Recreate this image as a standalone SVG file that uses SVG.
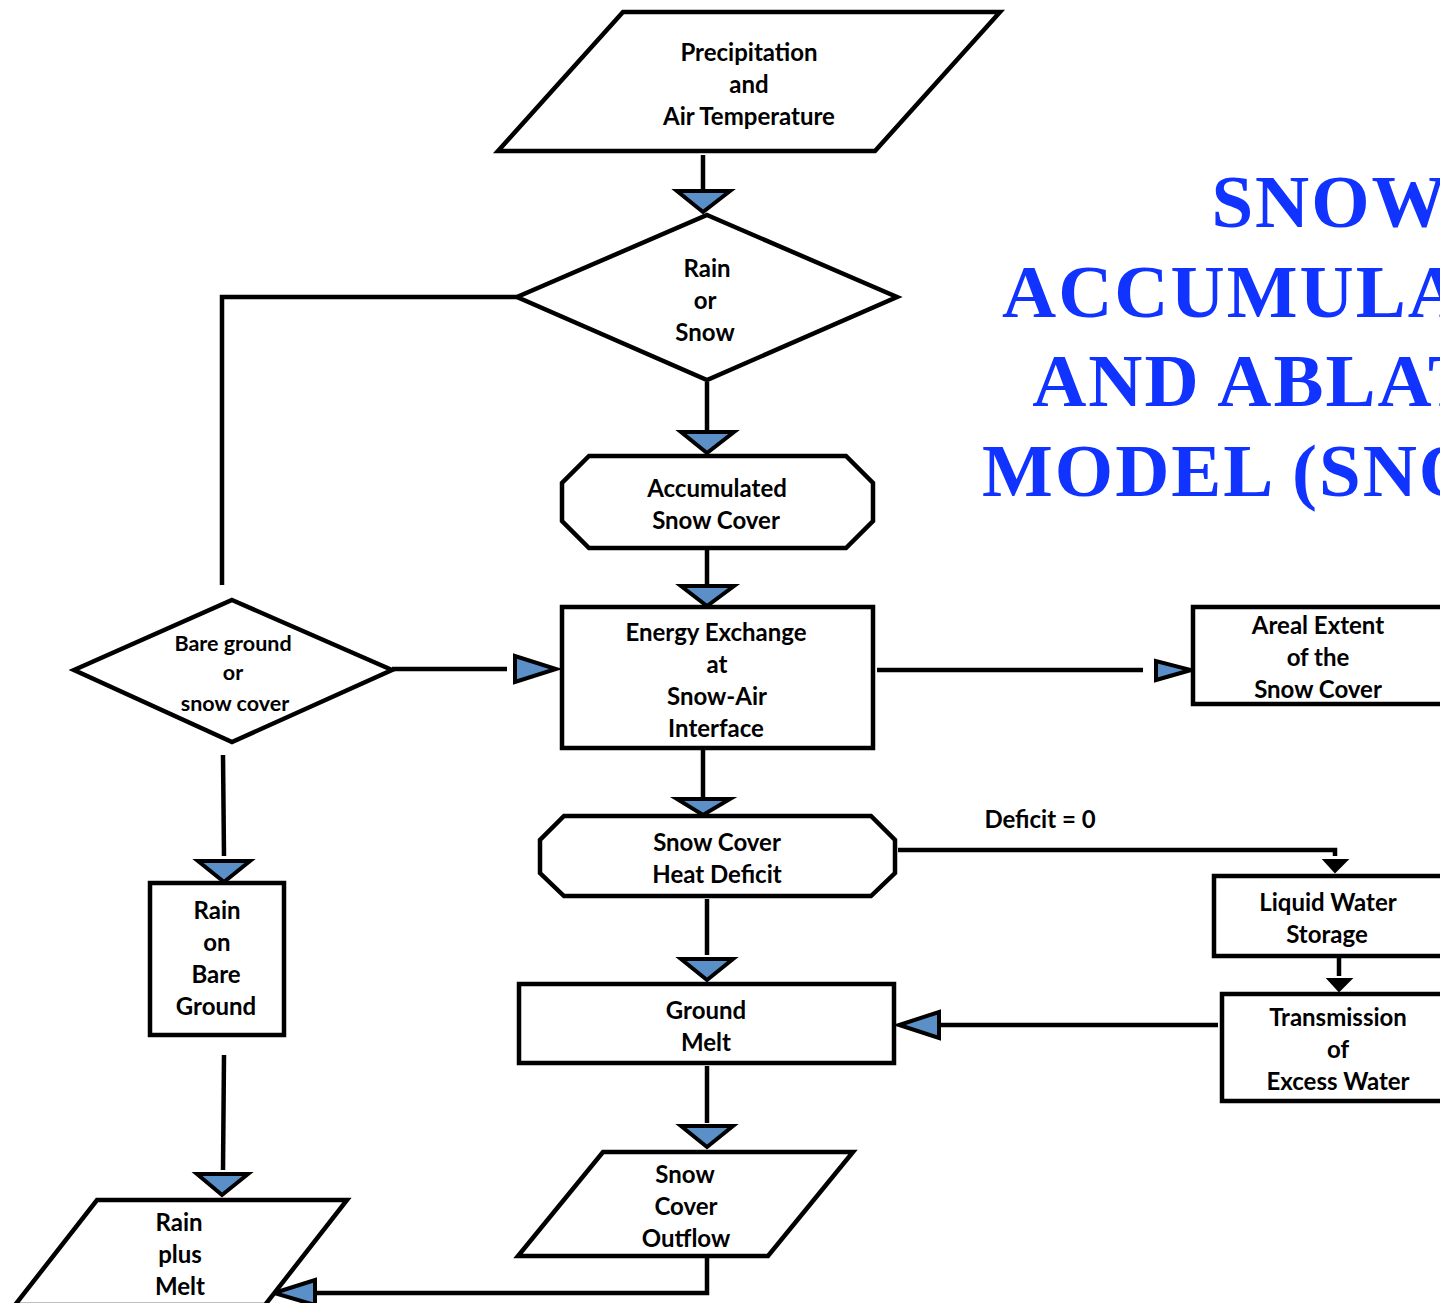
<svg xmlns="http://www.w3.org/2000/svg" width="1440" height="1303" viewBox="0 0 1440 1303">
<style>
.s{fill:#fff;stroke:#000;stroke-width:4.5;stroke-linejoin:miter}
.t{font-family:Lato,"Open Sans","Liberation Sans",sans-serif;font-weight:bold;font-size:24px;fill:#000;text-anchor:middle}
.ts{font-size:21.5px}
.c{fill:none;stroke:#000;stroke-width:4.5}
.a{fill:#5a8fc8;stroke:#000;stroke-width:4;stroke-linejoin:miter}
.ab{fill:#000;stroke:#000;stroke-width:2}
.title{font-family:"Liberation Serif","DejaVu Serif",serif;font-weight:bold;font-size:75px;letter-spacing:2px;fill:#1133ff}
</style>
<rect width="1440" height="1303" fill="#fff"/>
<g id="title">
<text class="title" x="1330" y="227" text-anchor="middle">SNOW</text>
<text class="title" x="1330" y="317" text-anchor="middle">ACCUMULATION</text>
<text class="title" x="1330" y="406" text-anchor="middle">AND ABLATION</text>
<text class="title" x="982" y="496">MODEL (SNOW-17)</text>
</g>
<g id="connectors">
<path class="c" d="M703,155 V190"/>
<polygon class="a" points="677,191 730,191 703,212"/>
<path class="c" d="M707,382 V430"/>
<polygon class="a" points="681,432 734,432 707,453"/>
<path class="c" d="M707,550 V585"/>
<polygon class="a" points="681,586 734,586 707,606"/>
<path class="c" d="M517,297 H222 V585"/>
<path class="c" d="M392,669 H507"/>
<polygon class="a" points="515,656 515,682 556,669"/>
<path class="c" d="M877,670 H1143"/>
<polygon class="a" points="1156,661 1156,680 1191,670"/>
<path class="c" d="M703,750 V797"/>
<polygon class="a" points="677,799 730,799 703,815"/>
<path class="c" d="M898,850 H1335 V856"/>
<polygon class="ab" points="1324,860 1347,860 1335,872"/>
<path class="c" d="M707,899 V955"/>
<polygon class="a" points="681,959 733,959 707,980"/>
<path class="c" d="M1339,958 V976"/>
<polygon class="ab" points="1328,979 1351,979 1339,991"/>
<path class="c" d="M1218,1025 H940"/>
<polygon class="a" points="939,1012 939,1038 899,1025"/>
<path class="c" d="M707,1066 V1123"/>
<polygon class="a" points="681,1126 733,1126 707,1147"/>
<path class="c" d="M223,755 L224,856"/>
<polygon class="a" points="198,861 250,861 224,882"/>
<path class="c" d="M224,1055 L223,1170"/>
<polygon class="a" points="197,1174 248,1174 222,1195"/>
<path class="c" d="M707,1258 V1293 H315"/>
<polygon class="a" points="315,1280 315,1305 274,1293"/>
</g>
<g id="n-precip">
<polygon class="s" points="623,12 1000,12 875,151 498,151"/>
<text class="t" x="749" y="61">Precipitation</text>
<text class="t" x="749" y="93">and</text>
<text class="t" x="749" y="125">Air Temperature</text>
</g>
<g id="n-rainsnow">
<polygon class="s" points="707,215 897,297 707,380 517,297"/>
<text class="t" x="707" y="277">Rain</text>
<text class="t" x="705" y="309">or</text>
<text class="t" x="705" y="341">Snow</text>
</g>
<g id="n-accum">
<polygon class="s" points="589,456 846,456 873,483 873,521 846,548 589,548 562,521 562,483"/>
<text class="t" x="717" y="497">Accumulated</text>
<text class="t" x="716" y="529">Snow Cover</text>
</g>
<g id="n-energy">
<rect class="s" x="562" y="607" width="311" height="141"/>
<text class="t" x="716" y="641">Energy Exchange</text>
<text class="t" x="717" y="673">at</text>
<text class="t" x="717" y="705">Snow-Air</text>
<text class="t" x="716" y="737">Interface</text>
</g>
<g id="n-bare">
<polygon class="s" points="232,600 392,670 232,742 74,670"/>
<text class="t ts" x="233" y="651">Bare ground</text>
<text class="t ts" x="233" y="680">or</text>
<text class="t ts" x="235" y="711">snow cover</text>
</g>
<g id="n-areal">
<rect class="s" x="1193" y="607" width="250" height="97"/>
<text class="t" x="1318" y="634">Areal Extent</text>
<text class="t" x="1318" y="666">of the</text>
<text class="t" x="1318" y="698">Snow Cover</text>
</g>
<g id="n-deficit">
<polygon class="s" points="564,816 871,816 895,840 895,873 871,896 564,896 540,873 540,840"/>
<text class="t" x="717" y="851">Snow Cover</text>
<text class="t" x="717" y="883">Heat Deficit</text>
</g>
<text class="t" x="1040" y="828">Deficit = 0</text>
<g id="n-liquid">
<rect class="s" x="1214" y="876" width="230" height="80"/>
<text class="t" x="1328" y="911">Liquid Water</text>
<text class="t" x="1327" y="943">Storage</text>
</g>
<g id="n-trans">
<rect class="s" x="1222" y="994" width="222" height="107"/>
<text class="t" x="1338" y="1026">Transmission</text>
<text class="t" x="1338" y="1058">of</text>
<text class="t" x="1338" y="1090">Excess Water</text>
</g>
<g id="n-ground">
<rect class="s" x="519" y="984" width="375" height="79"/>
<text class="t" x="706" y="1019">Ground</text>
<text class="t" x="706" y="1051">Melt</text>
</g>
<g id="n-rainbare">
<rect class="s" x="150" y="883" width="134" height="152"/>
<text class="t" x="217" y="919">Rain</text>
<text class="t" x="217" y="951">on</text>
<text class="t" x="216" y="983">Bare</text>
<text class="t" x="216" y="1015">Ground</text>
</g>
<g id="n-outflow">
<polygon class="s" points="603,1152 853,1152 768,1256 518,1256"/>
<text class="t" x="685" y="1183">Snow</text>
<text class="t" x="686" y="1215">Cover</text>
<text class="t" x="686" y="1247">Outflow</text>
</g>
<g id="n-rainmelt">
<polygon class="s" points="97,1200 347,1200 265,1305 15,1305"/>
<text class="t" x="179" y="1231">Rain</text>
<text class="t" x="180" y="1263">plus</text>
<text class="t" x="180" y="1295">Melt</text>
</g>
</svg>
